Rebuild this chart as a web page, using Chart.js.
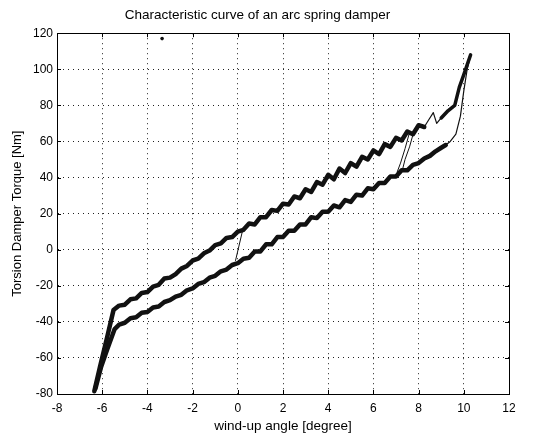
<!DOCTYPE html>
<html>
<head>
<meta charset="utf-8">
<script src="https://cdn.jsdelivr.net/npm/chart.js@4/dist/chart.umd.min.js"></script>
<style>
  html, body { margin: 0; padding: 0; background: #fff; }
  #wrap { width: 542px; height: 440px; position: relative; }
</style>
</head>
<body>
<div id="wrap"><canvas id="c"></canvas></div>
<script>
// loading branch (upper band)
const upperAngle = [-6.35, -6.1, -5.8, -5.5, -5.25, -5, -4.75, -4.5, -4.25, -4, -3.75, -3.5, -3.25, -3, -2.75, -2.5, -2.25, -2, -1.75, -1.5, -1.25, -1, -0.75, -0.5, -0.25, 0, 0.25, 0.5, 0.75, 1, 1.25, 1.5, 1.75, 2, 2.25, 2.5, 2.75, 3, 3.25, 3.5, 3.75, 4, 4.25, 4.5, 4.75, 5, 5.25, 5.5, 5.75, 6, 6.25, 6.5, 6.75, 7, 7.25, 7.5, 7.75, 8, 8.25];
const upperTorque = [-78.5, -65, -49.5, -33.5, -31, -30.5, -27.5, -27, -24, -23.5, -20.5, -19.5, -16, -15.5, -13.5, -10.5, -9, -6, -5, -2, -0.5, 2.5, 3.5, 6.5, 7, 10, 11, 14.5, 14, 18, 18, 22, 21.5, 25.5, 25, 29.5, 28.5, 33.5, 32, 37.5, 36, 41.5, 39, 45, 42.5, 48, 46, 51.5, 50, 55, 53, 58.5, 57, 62, 60.5, 65.5, 64, 69, 68];
const kinkAngle = [8.25, 8.45, 8.65, 8.8, 9.0];
const kinkTorque = [68, 72, 76, 70, 73];
const topAngle = [9.0, 9.3, 9.6, 9.8, 10.0, 10.3];
const topTorque = [73, 77, 80, 90, 97, 108];

// unloading branch (lower band)
const returnAngle = [10.3, 10.15, 10.0, 9.85, 9.65, 9.4, 9.2];
const returnTorque = [108, 100, 88, 74, 64, 60, 58];
const lowerAngle = [9.2, 9.0, 8.75, 8.5, 8.25, 8, 7.75, 7.5, 7.25, 7, 6.75, 6.5, 6.25, 6, 5.75, 5.5, 5.25, 5, 4.75, 4.5, 4.25, 4, 3.75, 3.5, 3.25, 3, 2.75, 2.5, 2.25, 2, 1.75, 1.5, 1.25, 1, 0.75, 0.5, 0.25, 0, -0.25, -0.5, -0.75, -1, -1.25, -1.5, -1.75, -2, -2.25, -2.5, -2.75, -3, -3.25, -3.5, -3.75, -4, -4.25, -4.5, -4.75, -5, -5.25, -5.45, -5.8, -6.05, -6.3];
const lowerTorque = [58, 56.5, 54.5, 52, 50.5, 48, 47, 44, 44, 40.5, 40.5, 37, 37, 33.5, 34, 30, 30.5, 26.5, 27.5, 23.5, 24.5, 21, 21, 17.5, 18, 14, 14, 10.5, 10.5, 7, 7, 3, 3, -1, -1, -4.5, -5, -7.5, -8.5, -11, -12, -14.5, -15.5, -18, -19, -21.5, -22.5, -25, -26, -28, -29, -31.5, -32, -34.5, -35, -37.5, -38, -40.5, -41.5, -44, -56, -65, -77];

// thin crossings between the bands
const crossAAngle = [0.2, 0.05, -0.1];
const crossATorque = [10, 2, -6];
const crossBAngle = [7.6, 7.4, 7.2, 7.05];
const crossBTorque = [65, 56, 48, 43];
const crossCAngle = [7.8, 7.6, 7.4, 7.3];
const crossCTorque = [66, 57, 50, 45];

// stray speck near the top
const speckAngle = [-3.35];
const speckTorque = [117];

const xTicks = [-8, -6, -4, -2, 0, 2, 4, 6, 8, 10, 12];
const yTicks = [-80, -60, -40, -20, 0, 20, 40, 60, 80, 100, 120];

function pts(xs, ys) {
  return xs.map((x, i) => ({x: x, y: ys[i]}));
}

function band(xs, ys, w) {
  return {
    data: pts(xs, ys),
    showLine: true,
    borderColor: '#111',
    borderWidth: w,
    pointRadius: 0,
    tension: 0,
    borderJoinStyle: 'round',
    borderCapStyle: 'round',
  };
}

// MATLAB style box with inward tick marks
const boxPlugin = {
  id: 'box',
  afterDatasetsDraw(chart) {
    const {ctx, chartArea: a, scales} = chart;
    ctx.save();
    ctx.strokeStyle = '#000';
    ctx.lineWidth = 1;
    ctx.beginPath();
    xTicks.forEach(v => {
      const px = Math.round(scales.x.getPixelForValue(v)) + 0.5;
      ctx.moveTo(px, a.bottom); ctx.lineTo(px, a.bottom - 4);
      ctx.moveTo(px, a.top); ctx.lineTo(px, a.top + 4);
    });
    yTicks.forEach(v => {
      const py = Math.round(scales.y.getPixelForValue(v)) + 0.5;
      ctx.moveTo(a.left, py); ctx.lineTo(a.left + 4, py);
      ctx.moveTo(a.right, py); ctx.lineTo(a.right - 4, py);
    });
    ctx.stroke();
    ctx.strokeRect(Math.round(a.left) + 0.5, Math.round(a.top) + 0.5, Math.round(a.right - a.left), Math.round(a.bottom - a.top));
    ctx.restore();
  }
};

Chart.defaults.font.family = '"Liberation Sans", Arial, sans-serif';
Chart.defaults.font.size = 12;
Chart.defaults.color = '#000';

new Chart(document.getElementById('c'), {
  type: 'scatter',
  data: {
    datasets: [
      band(upperAngle, upperTorque, 4.5),
      band(kinkAngle, kinkTorque, 1.2),
      band(topAngle, topTorque, 3.5),
      band(returnAngle, returnTorque, 1.2),
      band(lowerAngle, lowerTorque, 4.5),
      band(crossAAngle, crossATorque, 1),
      band(crossBAngle, crossBTorque, 1),
      band(crossCAngle, crossCTorque, 1),
      {
        data: pts(speckAngle, speckTorque),
        pointRadius: 1.8,
        backgroundColor: '#111',
        borderWidth: 0,
      },
    ]
  },
  options: {
    responsive: true,
    maintainAspectRatio: false,
    animation: false,
    layout: {padding: {left: 6, right: 33, top: 0, bottom: 2}},
    plugins: {
      legend: {display: false},
      tooltip: {enabled: false},
      title: {
        display: true,
        text: 'Characteristic curve of an arc spring damper',
        color: '#000',
        font: {size: 13.5, weight: 'normal'},
        padding: {top: 7, bottom: 10},
      },
    },
    scales: {
      x: {
        type: 'linear',
        min: -8,
        max: 12,
        afterBuildTicks: s => { s.ticks = xTicks.map(v => ({value: v})); },
        afterFit: s => { s.height = 44; },
        ticks: {padding: 7, color: '#000', maxRotation: 0},
        grid: {color: '#222', drawTicks: false, lineWidth: 1},
        border: {display: true, color: '#000', dash: [1, 4]},
        title: {display: true, text: 'wind-up angle [degree]', color: '#000', font: {size: 13.5}, padding: {top: 4, bottom: 4}},
      },
      y: {
        type: 'linear',
        min: -80,
        max: 120,
        afterBuildTicks: s => { s.ticks = yTicks.map(v => ({value: v})); },
        afterFit: s => { s.width = 51; },
        ticks: {padding: 4, color: '#000'},
        grid: {color: '#222', drawTicks: false, lineWidth: 1},
        border: {display: true, color: '#000', dash: [1, 4]},
        title: {display: true, text: 'Torsion Damper Torque [Nm]', color: '#000', font: {size: 13}, padding: {top: 4, bottom: 4}},
      },
    },
  },
  plugins: [boxPlugin],
});
</script>
</body>
</html>
